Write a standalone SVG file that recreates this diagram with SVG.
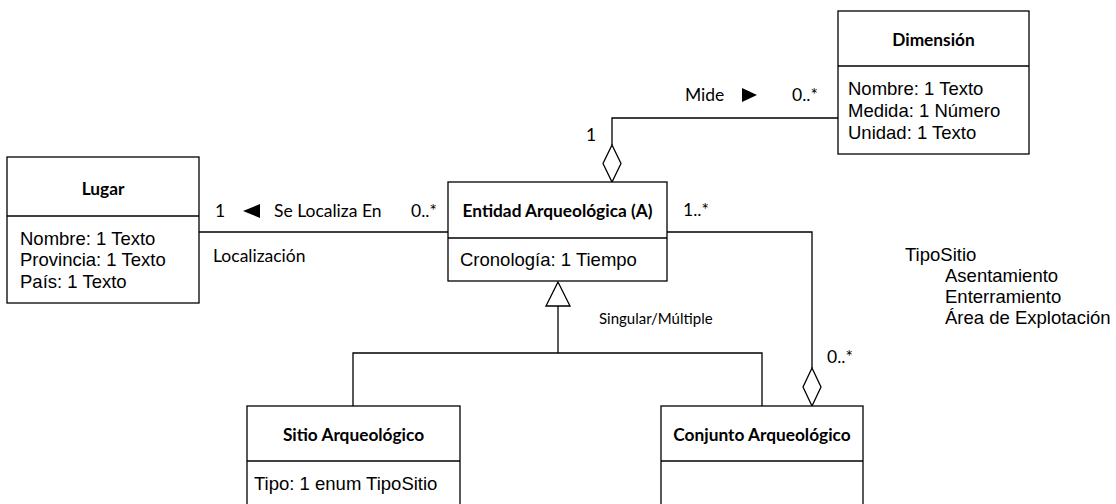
<svg xmlns="http://www.w3.org/2000/svg" width="1116" height="504" viewBox="0 0 1116 504">
  <style>
    .box { fill: #fff; stroke: #000; stroke-width: 1.3; }
    .div { stroke: #000; stroke-width: 1.3; }
    .line { fill: none; stroke: #000; stroke-width: 1.3; }
    .title { font-family: Lato, "Liberation Sans", sans-serif; font-weight: bold; font-size: 17.3px; fill: #000; text-anchor: middle; dominant-baseline: central; }
    .attr { font-family: "Liberation Sans", Arial, sans-serif; font-size: 18.5px; fill: #000; }
    .lbl { font-family: Lato, "Liberation Sans", sans-serif; font-size: 17.5px; fill: #000; }
    .small { font-size: 15px; }
    .head { fill: #000; stroke: none; }
    .open { fill: #fff; stroke: #000; stroke-width: 1.3; }
  </style>

  <!-- connectors -->
  <g id="connectors">
    <!-- Dimensión to Entidad (aggregation) -->
    <polyline class="line" points="838,118 612,118 612,145"/>
    <polygon class="open" points="612,145 621,163.5 612,182 603,163.5"/>
    <text class="lbl" x="685" y="101">Mide</text>
    <polygon class="head" points="742,88 757,95 742,102"/>
    <text class="lbl" x="792" y="101">0..*</text>
    <text class="lbl" x="586" y="141">1</text>

    <!-- Lugar to Entidad -->
    <line class="line" x1="199" y1="232" x2="448" y2="232"/>
    <text class="lbl" x="215" y="217">1</text>
    <polygon class="head" points="260,204 243,211 260,218"/>
    <text class="lbl" x="274" y="217">Se Localiza En</text>
    <text class="lbl" x="411" y="217">0..*</text>
    <text class="lbl" x="213" y="262">Localización</text>

    <!-- Entidad to Conjunto (aggregation) -->
    <polyline class="line" points="667,232 812,232 812,368"/>
    <polygon class="open" points="812,368 821,387 812,406 803,387"/>
    <text class="lbl" x="683" y="216">1..*</text>
    <text class="lbl" x="827" y="363">0..*</text>

    <!-- Generalization -->
    <polyline class="line" points="353,406 353,353 762,353 762,406"/>
    <line class="line" x1="558" y1="353" x2="558" y2="306"/>
    <polygon class="open" points="558,282 570,306 546,306"/>
    <text class="lbl small" x="599" y="324">Singular/Múltiple</text>
  </g>

  <!-- Dimensión -->
  <g id="dimension">
    <rect class="box" x="838" y="11" width="191" height="143"/>
    <line class="div" x1="838" y1="66" x2="1029" y2="66"/>
    <text class="title" x="933.5" y="39">Dimensión</text>
    <text class="attr" x="848" y="95">Nombre: 1 Texto</text>
    <text class="attr" x="848" y="117">Medida: 1 Número</text>
    <text class="attr" x="848" y="139">Unidad: 1 Texto</text>
  </g>

  <!-- Lugar -->
  <g id="lugar">
    <rect class="box" x="7" y="157" width="192" height="146"/>
    <line class="div" x1="7" y1="216" x2="199" y2="216"/>
    <text class="title" x="103" y="188">Lugar</text>
    <text class="attr" x="20" y="245">Nombre: 1 Texto</text>
    <text class="attr" x="20" y="266">Provincia: 1 Texto</text>
    <text class="attr" x="20" y="288">País: 1 Texto</text>
  </g>

  <!-- Entidad Arqueológica -->
  <g id="entidad">
    <rect class="box" x="448" y="182" width="219" height="99"/>
    <line class="div" x1="448" y1="238" x2="667" y2="238"/>
    <text class="title" x="557.5" y="210">Entidad Arqueológica (A)</text>
    <text class="attr" x="460" y="266">Cronología: 1 Tiempo</text>
  </g>

  <!-- Sitio Arqueológico -->
  <g id="sitio">
    <rect class="box" x="247" y="406" width="213" height="110"/>
    <line class="div" x1="247" y1="461" x2="460" y2="461"/>
    <text class="title" x="353.5" y="434">Sitio Arqueológico</text>
    <text class="attr" x="254" y="490">Tipo: 1 enum TipoSitio</text>
  </g>

  <!-- Conjunto Arqueológico -->
  <g id="conjunto">
    <rect class="box" x="661" y="406" width="202" height="110"/>
    <line class="div" x1="661" y1="461" x2="863" y2="461"/>
    <text class="title" x="762" y="434">Conjunto Arqueológico</text>
  </g>

  <!-- TipoSitio enumeration -->
  <g id="tiposito">
    <text class="attr" x="905" y="261">TipoSitio</text>
    <text class="attr" x="945" y="282">Asentamiento</text>
    <text class="attr" x="945" y="303">Enterramiento</text>
    <text class="attr" x="945" y="324">Área de Explotación</text>
  </g>
</svg>
